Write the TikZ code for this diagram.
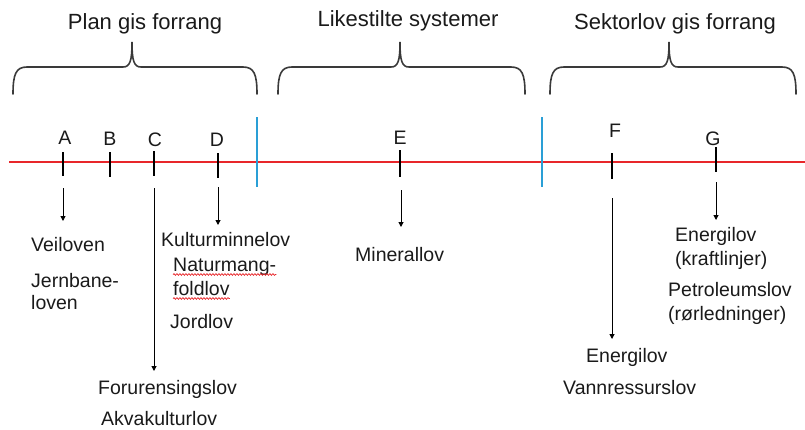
\documentclass[tikz,border=0pt]{standalone}
\usepackage{fontspec}
\setmainfont{Liberation Sans}
\usetikzlibrary{arrows.meta,decorations.pathmorphing}
\definecolor{axisred}{HTML}{E8262A}
\definecolor{divblue}{HTML}{2A9FD6}
\definecolor{bracegray}{HTML}{3A3A3A}
\definecolor{txt}{HTML}{1A1A1A}
\tikzset{
  title/.style={anchor=base,inner sep=0pt,text=txt,font=\fontsize{22}{26}\selectfont},
  lbl/.style={anchor=base west,inner sep=0pt,text=txt,font=\fontsize{19.5}{23}\selectfont},
  letter/.style={anchor=base,inner sep=0pt,text=txt,font=\fontsize{19.5}{23}\selectfont},
  tickmark/.style={line width=2.4pt,black},
  divider/.style={line width=2.6pt,divblue},
  axis/.style={line width=2pt,axisred},
  bracestyle/.style={line width=1.6pt,bracegray,line cap=round},
  arr/.style={line width=1pt,black,-{Triangle[length=5pt,width=5pt]}},
  spell/.style={axisred,line width=0.7pt,decorate,decoration={snake,amplitude=0.9pt,segment length=3pt}}
}
\newcommand{\mybrace}[4]{% left x, tip x, right x, name
  \draw[bracestyle] (#1,94) .. controls (#1,74) and (#1+3,67) .. (#1+14,67)
    -- (#2-9,67) .. controls (#2-2,67) and (#2,61) .. (#2,42)
    .. controls (#2,61) and (#2+2,67) .. (#2+9,67)
    -- (#3-14,67) .. controls (#3-3,67) and (#3,74) .. (#3,94);
  \coordinate (#4) at (#2,42);
}
\begin{document}
\begin{tikzpicture}[x=1pt,y=-1pt]
\useasboundingbox (0,0) rectangle (805,429);
% titles
\node[title] (t1) at (145,29) {Plan gis forrang};
\node[title] (t2) at (408,26) {Likestilte systemer};
\node[title] (t3) at (675,29) {Sektorlov gis forrang};
% braces
\mybrace{13}{132}{257}{b1}
\mybrace{278}{400}{525}{b2}
\mybrace{550}{669}{796}{b3}
% axis
\coordinate (axL) at (9,161.5);
\coordinate (axR) at (805,161.5);
\draw[axis] (axL) -- (axR);
% dividers
\coordinate (d1t) at (257,117); \coordinate (d1b) at (257,187);
\coordinate (d2t) at (542,117); \coordinate (d2b) at (542,187);
\draw[divider] (d1t) -- (d1b);
\draw[divider] (d2t) -- (d2b);
% ticks
\foreach \n/\x/\a/\b in {A/63/152/176, B/110/152/177, C/154/151/176, D/218/153/178, E/400/150/177, F/612/153/179, G/716/147/172}{
  \coordinate (tk\n t) at (\x,\a);
  \coordinate (tk\n b) at (\x,\b);
  \draw[tickmark] (tk\n t) -- (tk\n b);
}
% letters
\node[letter] (lA) at (65,144) {A};
\node[letter] (lB) at (110,145.5) {B};
\node[letter] (lC) at (155,146) {C};
\node[letter] (lD) at (217,146) {D};
\node[letter] (lE) at (400,144) {E};
\node[letter] (lF) at (615,137) {F};
\node[letter] (lG) at (713,145) {G};
% arrows
\coordinate (aAs) at (63,188);  \coordinate (aAe) at (63,221);
\coordinate (aCs) at (154,188); \coordinate (aCe) at (154,371);
\coordinate (aDs) at (218,187); \coordinate (aDe) at (218,225);
\coordinate (aEs) at (401,190); \coordinate (aEe) at (401,227);
\coordinate (aFs) at (612,198); \coordinate (aFe) at (612,339);
\coordinate (aGs) at (716,182); \coordinate (aGe) at (716,220);
\draw[arr] (aAs) -- (aAe);
\draw[arr] (aCs) -- (aCe);
\draw[arr] (aDs) -- (aDe);
\draw[arr] (aEs) -- (aEe);
\draw[arr] (aFs) -- (aFe);
\draw[arr] (aGs) -- (aGe);
% labels
\node[lbl] (veil) at (31,251.5) {Veiloven};
\node[lbl] (jern) at (31,287) {Jernbane-};
\node[lbl] (jern2) at (31,309) {loven};
\node[lbl] (kult) at (161,246.5) {Kulturminnelov};
\node[lbl] (natu) at (173,271) {Naturmang-};
\node[lbl] (natu2) at (173,295) {foldlov};
\node[lbl] (jord) at (170,328) {Jordlov};
\node[lbl] (foru) at (98,394) {Forurensingslov};
\node[lbl] (akva) at (101,425) {Akvakulturlov};
\node[lbl] (mine) at (355,261) {Minerallov};
\node[lbl] (eneG) at (675,241.5) {Energilov};
\node[lbl] (kraf) at (675,265.5) {(kraftlinjer)};
\node[lbl] (petr) at (668,296.5) {Petroleumslov};
\node[lbl] (rorl) at (668,320) {(rørledninger)};
\node[lbl] (eneF) at (586,362.5) {Energilov};
\node[lbl] (vann) at (563,394) {Vannressurslov};
% spell-check underlines
\draw[spell] ([yshift=-3.5pt]natu.base west) -- ([yshift=-3.5pt]natu.base east);
\draw[spell] ([yshift=-3.5pt]natu2.base west) -- ([yshift=-3.5pt]natu2.base east);
\end{tikzpicture}
\end{document}
